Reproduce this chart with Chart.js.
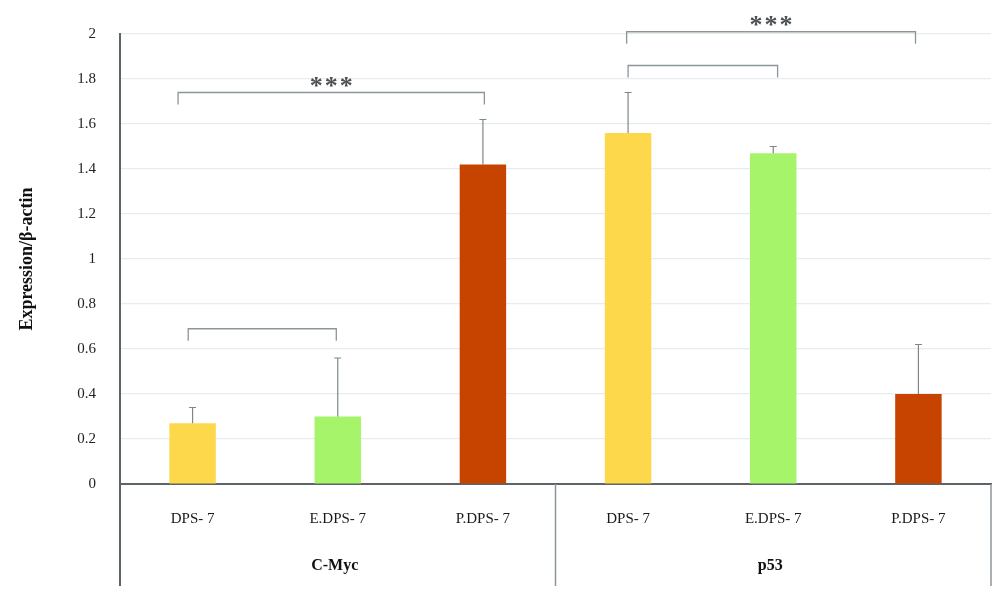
<!DOCTYPE html>
<html>
<head>
<meta charset="utf-8">
<script src="https://cdn.jsdelivr.net/npm/chart.js@4.4.0/dist/chart.umd.min.js"></script>
<style>
    html, body { margin: 0; padding: 0; background: #fff; }
    #wrap { width: 1000px; height: 597px; }
</style>
</head>
<body>
<div id="wrap"><canvas id="chart"></canvas></div>
<script>
const categories = ['DPS- 7', 'E.DPS- 7', 'P.DPS- 7', 'DPS- 7', 'E.DPS- 7', 'P.DPS- 7'];
const genes = ['C-Myc', 'p53'];
const geneFirst = [0, 3];
const geneLast = [2, 5];
const expression = [0.27, 0.30, 1.42, 1.56, 1.47, 0.40];
const errorUpper = [0.07, 0.26, 0.20, 0.18, 0.03, 0.22];
const barColors = ['#fdd84b', '#a6f46a', '#c64300', '#fdd84b', '#a6f46a', '#c64300'];

// significance brackets (category positions and level on the y scale)
const bracketFrom = [-0.1, -0.03, 2.99, 3.0];
const bracketTo = [2.01, 0.99, 4.98, 4.03];
const bracketLevel = [1.74, 0.69, 2.01, 1.86];
const bracketMark = ['***', '', '***', ''];

const serif = '"Liberation Serif", "DejaVu Serif", serif';

// error bars, brackets, group labels and the separators under the axis
const extrasPlugin = {
    id: 'extras',
    afterDatasetsDraw(chart) {
        const ctx = chart.ctx;
        const y = chart.scales.y;
        const bars = chart.getDatasetMeta(0).data;

        ctx.save();
        ctx.strokeStyle = '#7d878b';
        ctx.lineWidth = 1.2;
        bars.forEach((bar, i) => {
            const top = y.getPixelForValue(expression[i] + errorUpper[i]);
            ctx.beginPath();
            ctx.moveTo(bar.x, bar.y);
            ctx.lineTo(bar.x, top);
            ctx.moveTo(bar.x - 3.5, top);
            ctx.lineTo(bar.x + 3.5, top);
            ctx.stroke();
        });
        ctx.restore();
    },
    afterDraw(chart) {
        const ctx = chart.ctx;
        const x = chart.scales.x;
        const y = chart.scales.y;
        const area = chart.chartArea;
        const bottom = 586;

        ctx.save();
        // brackets
        ctx.strokeStyle = '#8c969a';
        ctx.lineWidth = 1.3;
        for (let i = 0; i < bracketFrom.length; i++) {
            const x1 = x.getPixelForValue(bracketFrom[i]);
            const x2 = x.getPixelForValue(bracketTo[i]);
            const yy = y.getPixelForValue(bracketLevel[i]);
            ctx.beginPath();
            ctx.moveTo(x1, yy + 12);
            ctx.lineTo(x1, yy);
            ctx.lineTo(x2, yy);
            ctx.lineTo(x2, yy + 12);
            ctx.stroke();
            if (bracketMark[i]) {
                ctx.fillStyle = '#4a5053';
                ctx.font = 'bold 26px ' + serif;
                ctx.letterSpacing = '2px';
                ctx.textAlign = 'center';
                ctx.textBaseline = 'alphabetic';
                ctx.fillText(bracketMark[i], (x1 + x2) / 2 + 1, yy + 1);
                ctx.letterSpacing = '0px';
            }
        }

        // left axis continues down through the label area
        ctx.strokeStyle = '#5d6468';
        ctx.lineWidth = 2;
        ctx.beginPath();
        ctx.moveTo(area.left, area.bottom);
        ctx.lineTo(area.left, bottom);
        ctx.stroke();

        // group separators
        ctx.strokeStyle = '#8d979b';
        ctx.lineWidth = 1.5;
        const sep = (x.getPixelForValue(2) + x.getPixelForValue(3)) / 2;
        [sep, area.right].forEach(px => {
            ctx.beginPath();
            ctx.moveTo(px, area.bottom);
            ctx.lineTo(px, bottom);
            ctx.stroke();
        });

        // gene labels
        ctx.fillStyle = '#111';
        ctx.font = 'bold 16px ' + serif;
        ctx.textAlign = 'center';
        ctx.textBaseline = 'middle';
        genes.forEach((g, i) => {
            const cx = (x.getPixelForValue(geneFirst[i]) + x.getPixelForValue(geneLast[i])) / 2;
            ctx.fillText(g, cx - 3, 566);
        });
        ctx.restore();
    }
};

new Chart(document.getElementById('chart'), {
    type: 'bar',
    data: {
        labels: categories,
        datasets: [{
            data: expression,
            backgroundColor: barColors,
            borderWidth: 0,
            barPercentage: 0.32,
            categoryPercentage: 1
        }]
    },
    options: {
        responsive: true,
        maintainAspectRatio: false,
        animation: false,
        layout: { padding: { top: 34, right: 9, left: 0, bottom: 0 } },
        plugins: {
            legend: { display: false },
            tooltip: { enabled: false }
        },
        scales: {
            x: {
                grid: { display: false, drawTicks: false },
                border: { display: true, color: '#5d6468', width: 2 },
                ticks: {
                    color: '#1a1a1a',
                    font: { family: serif, size: 15 },
                    padding: 26,
                    maxRotation: 0,
                    autoSkip: false
                },
                afterFit(scale) { scale.height = 113; }
            },
            y: {
                min: 0,
                max: 2,
                grid: {
                    drawTicks: false,
                    color: ctx => ctx.tick && ctx.tick.value === 0 ? 'rgba(0,0,0,0)' : '#e8eced',
                    lineWidth: 1.2
                },
                border: { display: true, color: '#5d6468', width: 2 },
                ticks: {
                    stepSize: 0.2,
                    padding: 24,
                    color: '#222',
                    font: { family: serif, size: 15 },
                    callback: v => String(+v.toFixed(1))
                },
                title: {
                    display: true,
                    text: 'Expression/β-actin',
                    color: '#111',
                    font: { family: serif, size: 18, weight: 'bold' },
                    padding: { top: 17, bottom: 0 }
                },
                afterFit(scale) { scale.width = 120; }
            }
        }
    },
    plugins: [extrasPlugin]
});
</script>
</body>
</html>
